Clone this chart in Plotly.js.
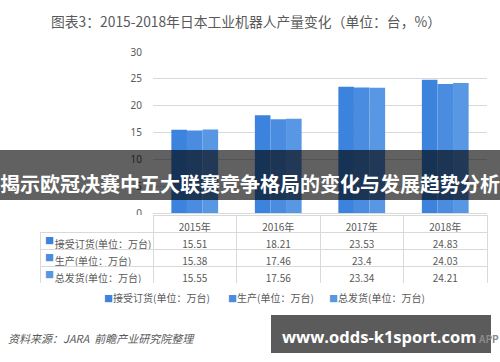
<!DOCTYPE html>
<html>
<head>
<meta charset="utf-8">
<script src="https://cdn.plot.ly/plotly-3.0.1.min.js"></script>
<style>html,body{margin:0;padding:0;background:#fff;}#chart{width:500px;height:362px;}</style>
</head>
<body>
<div id="chart"></div>
<script>
// ---- data ----
const years = ['2015年', '2016年', '2017年', '2018年'];
const seriesNames = ['接受订货(单位：万台)', '生产(单位：万台)', '总发货(单位：万台)'];
const orders = [15.51, 18.21, 23.53, 24.83];
const production = [15.38, 17.46, 23.4, 24.03];
const shipments = [15.55, 17.56, 23.34, 24.21];
const yTicks = [0, 5, 10, 15, 20, 25, 30];
const chartTitle = '图表3：2015-2018年日本工业机器人产量变化（单位：台，%）';
const bannerText = '揭示欧冠决赛中五大联赛竞争格局的变化与发展趋势分析';
const sourceText = '资料来源：JARA  前瞻产业研究院整理';
const siteText = 'www.odds-k1sport.com';

// ---- styling / layout helpers ----
const W = 500, H = 362;
const M = {l: 40, r: 13, t: 52, b: 79};
const PW = W - M.l - M.r, PH = H - M.t - M.b;
const px = x => (x - M.l) / PW;          // pixel x -> paper x
const py = y => (M.t + PH - y) / PH;     // pixel y -> paper y
const colors = ['#3b83dc', '#4a8de0', '#5797e3'];
const FONT = '"Noto Sans CJK SC", "Noto Sans", sans-serif';
const grey = '#595959';
const series = [orders, production, shipments];
const ROW_H = 17, TABLE_TOP = 215;

const traces = series.map((vals, i) => ({
  type: 'bar',
  name: seriesNames[i],
  x: years,
  y: vals,
  marker: {color: colors[i]},
  xaxis: 'x', yaxis: 'y',
  hoverinfo: 'skip',
  showlegend: false
}));

const NB = '\u00A0\u00A0\u00A0';
const labelCol = seriesNames.map(n => NB + n);
const yearCols = years.map((_, j) => series.map(s => String(s[j])));

traces.push({
  type: 'table',
  domain: {x: [0, 1], y: [0, py(TABLE_TOP)]},
  columnwidth: [113, 83.5, 83.5, 83.5, 83.5],
  header: {
    values: [''].concat(years),
    height: ROW_H,
    align: 'center',
    fill: {color: 'white'},
    line: {color: ['rgba(0,0,0,0)', '#d9d9d9', '#d9d9d9', '#d9d9d9', '#d9d9d9'], width: 1},
    font: {family: FONT, size: 10, color: grey}
  },
  cells: {
    values: [labelCol].concat(yearCols),
    height: ROW_H,
    align: ['left', 'center', 'center', 'center', 'center'],
    fill: {color: 'white'},
    line: {color: '#d9d9d9', width: 1},
    font: {family: FONT, size: 10, color: grey}
  }
});

const sq = c => '<span style="color:' + c + ';font-size:9px">■</span>';
const annotations = [
  {xref: 'paper', yref: 'paper', x: px(250), y: py(183), text: '<b>' + bannerText + '</b>',
   showarrow: false, font: {family: FONT, size: 20, color: '#ffffff'}, xanchor: 'center', yanchor: 'middle'},
  {xref: 'paper', yref: 'paper', x: px(6), y: py(338), text: '<i>' + sourceText + '</i>',
   showarrow: false, font: {family: FONT, size: 11, color: grey}, xanchor: 'left', yanchor: 'middle'},
  {xref: 'paper', yref: 'paper', x: px(501), y: py(338), text: '<b>APP</b>',
   showarrow: false, font: {family: FONT, size: 10, color: '#8a8a8a'}, xanchor: 'right', yanchor: 'middle'},
  {xref: 'paper', yref: 'paper', x: px(379), y: py(336), text: '<b>' + siteText + '</b>',
   showarrow: false, font: {family: '"Open Sans", "Noto Sans", sans-serif', size: 16.5, color: '#ffffff'}, xanchor: 'center', yanchor: 'middle'}
];
const legendX = [102, 226, 327];
seriesNames.forEach((n, i) => {
  annotations.push({
    xref: 'paper', yref: 'paper', x: px(legendX[i]), y: py(297), text: sq(colors[i]) + n,
    showarrow: false, font: {family: FONT, size: 10, color: grey}, xanchor: 'left', yanchor: 'middle'
  });
  // coloured square key inside the table's label column
  annotations.push({
    xref: 'paper', yref: 'paper', x: px(43), y: py(TABLE_TOP + ROW_H * (i + 1.5)), text: sq(colors[i]),
    showarrow: false, font: {family: FONT, size: 10, color: grey}, xanchor: 'left', yanchor: 'middle'
  });
});

const layout = {
  width: W, height: H,
  margin: M,
  paper_bgcolor: '#ffffff', plot_bgcolor: '#ffffff',
  font: {family: FONT, color: grey},
  title: {text: chartTitle, x: 246 / W, xanchor: 'center', y: 1 - 22 / H, yanchor: 'middle',
          font: {family: FONT, size: 13.8, color: grey}},
  barmode: 'group', bargap: 0.44, bargroupgap: 0,
  showlegend: false,
  xaxis: {domain: [px(153), 1], type: 'category', showticklabels: false, showgrid: false,
          zeroline: false, showline: false, ticks: '', fixedrange: true},
  yaxis: {domain: [py(213), 1], range: [0, 30], tickvals: yTicks, ticks: 'outside', ticklen: 8,
          tickcolor: 'rgba(0,0,0,0)', showgrid: true, gridcolor: '#d9d9d9', gridwidth: 1,
          zeroline: true, zerolinecolor: '#d9d9d9', showline: false,
          tickfont: {family: '"Noto Sans", sans-serif', size: 10, color: grey}, fixedrange: true},
  shapes: [
    {type: 'rect', xref: 'paper', yref: 'paper', x0: px(0), x1: px(500), y0: py(200), y1: py(150),
     fillcolor: 'rgba(0,0,0,0.62)', line: {width: 0}, layer: 'above'},
    {type: 'rect', xref: 'paper', yref: 'paper', x0: px(271), x1: px(491), y0: py(353), y1: py(315),
     fillcolor: '#5b5b5b', line: {width: 0}, layer: 'above'}
  ],
  annotations: annotations
};

Plotly.newPlot('chart', traces, layout, {displayModeBar: false, staticPlot: true});
</script>
</body>
</html>
